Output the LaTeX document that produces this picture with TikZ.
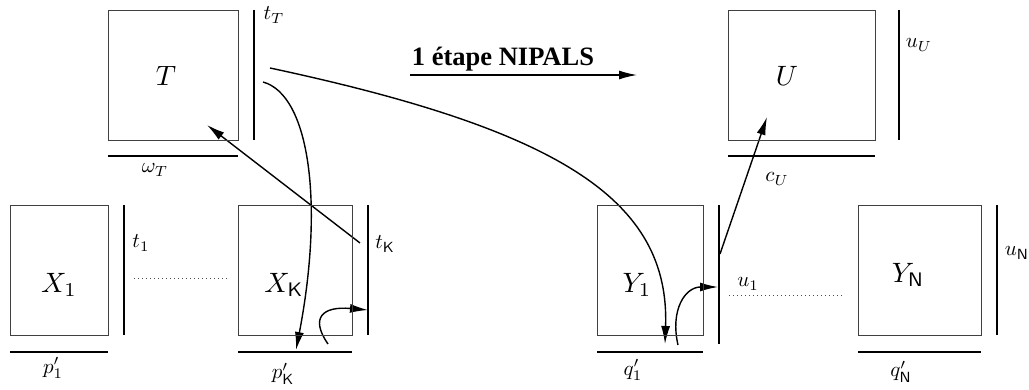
\documentclass[tikz,border=0pt]{standalone}
\usepackage{amssymb}
\usepackage{fontspec}
\newfontfamily\titlefont{Liberation Serif}
\usetikzlibrary{arrows.meta}
\pgfdeclarelayer{edgelayer}
\pgfdeclarelayer{nodelayer}
\pgfsetlayers{edgelayer,nodelayer,main}
\tikzstyle{block}=[draw=black!75, line width=0.9pt, inner sep=0pt, minimum height=130pt]
\tikzstyle{bar}=[draw=black, line width=1.8pt]
\tikzstyle{edge}=[draw=black, line width=1.4pt, -{Latex[length=18pt,width=9pt]}]
\tikzstyle{dots}=[draw=black!70, line width=0.9pt, dash pattern=on 1pt off 3pt]
\tikzstyle{blockname}=[inner sep=0pt, scale=2.8]
\tikzstyle{vectag}=[inner sep=0pt, scale=2.1]

\begin{document}
\begin{tikzpicture}[x=1pt, y=1pt]
			\useasboundingbox (0,0) rectangle (1029,390);
			\begin{pgfonlayer}{nodelayer}
			% blocks
			\node [style=block, minimum width=130pt] (0) at (173, 315) {};
			\node [style=block, minimum width=147pt] (1) at (801.5, 315) {};
			\node [style=block, minimum width=98pt] (2) at (59, 120) {};
			\node [style=block, minimum width=114pt] (3) at (295, 120) {};
			\node [style=block, minimum width=106pt] (4) at (650, 120) {};
			\node [style=block, minimum width=123pt] (5) at (919.5, 120) {};
			\node [style=blockname] (6) at (166, 314) {$T$};
			\node [style=blockname] (7) at (787, 314) {$U$};
			\node [style=blockname] (8) at (59, 105) {$X_1$};
			\node [style=blockname] (9) at (284, 105) {$X_{\mathsf{K}}$};
			\node [style=blockname] (10) at (637, 105) {$Y_1$};
			\node [style=blockname] (11) at (908, 115) {$Y_{\mathsf{N}}$};
			% scores and weights
			\node [style=vectag] (12) at (274, 375) {$t_T$};
			\node [style=vectag] (13) at (155, 220) {$\omega_T$};
			\node [style=vectag] (14) at (141, 147) {$t_1$};
			\node [style=vectag] (15) at (385, 146) {$t_{\mathsf{K}}$};
			\node [style=vectag] (16) at (53, 22) {$p'_1$};
			\node [style=vectag] (17) at (283, 16) {$p'_{\mathsf{K}}$};
			\node [style=vectag] (18) at (633, 20) {$q'_1$};
			\node [style=vectag] (19) at (901, 18) {$q'_{\mathsf{N}}$};
			\node [style=vectag] (20) at (748, 106) {$u_1$};
			\node [style=vectag] (21) at (1017, 137) {$u_{\mathsf{N}}$};
			\node [style=vectag] (22) at (919, 345) {$u_U$};
			\node [style=vectag] (23) at (777, 211) {$c_U$};
			\node [font=\fontsize{26.5}{30}\selectfont\titlefont\bfseries] (24) at (503, 331) {1 étape NIPALS};
			\end{pgfonlayer}
			\begin{pgfonlayer}{edgelayer}
			% bars
			\coordinate (30) at (254, 380);
			\coordinate (31) at (254, 250);
			\coordinate (32) at (899, 380);
			\coordinate (33) at (899, 250);
			\coordinate (34) at (124, 185);
			\coordinate (35) at (124, 55);
			\coordinate (36) at (368, 185);
			\coordinate (37) at (368, 55);
			\coordinate (38) at (719, 185);
			\coordinate (39) at (719, 46);
			\coordinate (40) at (997, 185);
			\coordinate (41) at (997, 55);
			\draw [style=bar] (30) to (31);
			\draw [style=bar] (32) to (33);
			\draw [style=bar] (34) to (35);
			\draw [style=bar] (36) to (37);
			\draw [style=bar] (38) to (39);
			\draw [style=bar] (40) to (41);
			\coordinate (42) at (108, 234);
			\coordinate (43) at (238, 234);
			\coordinate (44) at (728, 234);
			\coordinate (45) at (875, 234);
			\coordinate (46) at (10, 38);
			\coordinate (47) at (108, 38);
			\coordinate (48) at (238, 38);
			\coordinate (49) at (352, 38);
			\coordinate (50) at (597, 38);
			\coordinate (51) at (703, 38);
			\coordinate (52) at (858, 38);
			\coordinate (53) at (981, 38);
			\draw [style=bar, line width=1.4pt] (42) to (43);
			\draw [style=bar, line width=1.4pt] (44) to (45);
			\draw [style=bar, line width=1.4pt] (46) to (47);
			\draw [style=bar, line width=1.4pt] (48) to (49);
			\draw [style=bar, line width=1.4pt] (50) to (51);
			\draw [style=bar, line width=1.4pt] (52) to (53);
			\coordinate (54) at (134, 112);
			\coordinate (55) at (228, 112);
			\coordinate (56) at (729, 95);
			\coordinate (57) at (843, 95);
			\draw [style=dots] (54) to (55);
			\draw [style=dots] (56) to (57);
			% arrows
			\coordinate (60) at (410, 315);
			\coordinate (61) at (637, 315);
			\coordinate (62) at (360, 147);
			\coordinate (63) at (207, 265);
			\coordinate (64) at (270, 322);
			\coordinate (65) at (665, 46);
			\coordinate (66) at (263, 308);
			\coordinate (67) at (296, 40);
			\coordinate (68) at (328, 46);
			\coordinate (69) at (368, 80);
			\coordinate (70) at (678, 45);
			\coordinate (71) at (718, 103);
			\coordinate (72) at (720, 136);
			\coordinate (73) at (767, 273);
			\draw [style=edge] (60) to (61);
			\draw [style=edge] (62) to (63);
			\draw [style=edge] (64) .. controls (560, 260) and (670, 190) .. (65);
			\draw [style=edge] (66) .. controls (310, 295) and (324, 185) .. (67);
			\draw [style=edge] (68) .. controls (310, 72) and (322, 84) .. (69);
			\draw [style=edge] (70) .. controls (670, 80) and (685, 103) .. (71);
			\draw [style=edge] (72) to (73);
			\end{pgfonlayer}
\end{tikzpicture}
\end{document}
